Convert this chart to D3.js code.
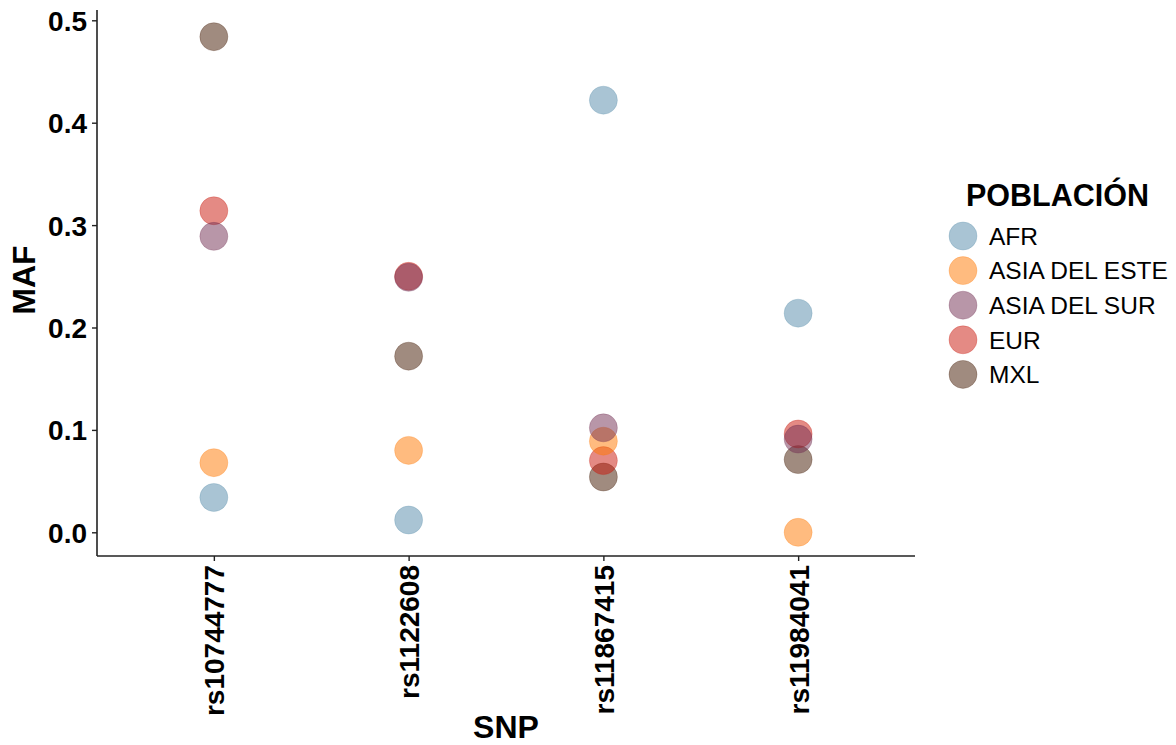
<!DOCTYPE html>
<html><head><meta charset="utf-8">
<script src="https://cdn.jsdelivr.net/npm/d3@7"></script>
<style>body{margin:0;background:#fff;} text{font-family:"Liberation Sans",Arial,sans-serif;}</style>
</head><body><svg id="c" width="1176" height="745"></svg>
<script>
const snps = ["rs10744777","rs1122608","rs11867415","rs11984041"];
const populations = ["AFR","ASIA DEL ESTE","ASIA DEL SUR","EUR","MXL"];
const popColors = ["#538AA9","#FF7700","#712D51","#C91509","#411700"];
const drawOrder = ["AFR","MXL","EUR","ASIA DEL ESTE","ASIA DEL SUR"];
const afr  = [0.034, 0.012, 0.422, 0.214];
const este = [0.068, 0.080, 0.089, 0.000];
const sur  = [0.289, 0.249, 0.102, 0.091];
const eur  = [0.314, 0.250, 0.070, 0.096];
const mxl  = [0.484, 0.172, 0.054, 0.071];
const yTicks = [0, 0.1, 0.2, 0.3, 0.4, 0.5];

(function(){
const seriesVals = {"AFR":afr, "ASIA DEL ESTE":este, "ASIA DEL SUR":sur, "EUR":eur, "MXL":mxl};
const data = [];
drawOrder.forEach(p=>snps.forEach((s,j)=>data.push({pop:p,snp:s,v:seriesVals[p][j]})));

const svg = d3.select("#c");
const pL = 97, pR = 915, pT = 10, pB = 556;
const x = d3.scalePoint().domain(snps).range([pL, pR]).padding(0.6);
const y = d3.scaleLinear().domain([0, 0.5]).range([532.3, 20.3]);
const color = d3.scaleOrdinal().domain(populations).range(popColors);
const alpha = 0.5;

svg.append("g").selectAll("circle").data(data).join("circle")
  .attr("cx", d=>x(d.snp)).attr("cy", d=>y(d.v)).attr("r", 14)
  .attr("fill", d=>color(d.pop)).attr("fill-opacity", alpha)
  .attr("stroke", d=>color(d.pop)).attr("stroke-opacity", 0.25).attr("stroke-width", 1);

const ya = svg.append("g").attr("transform", `translate(${pL},0)`)
  .call(d3.axisLeft(y).tickValues(yTicks).tickFormat(d3.format(".1f")).tickSize(5).tickPadding(5));
ya.select(".domain").attr("d", `M0,${pT}V${pB}`).attr("stroke","#222").attr("stroke-width",1.6);
ya.selectAll(".tick line").attr("stroke","#222").attr("stroke-width",1.4);
ya.selectAll(".tick text").attr("font-size", 28).attr("font-weight","bold").attr("fill","#000")
  .attr("dy","0.36em");

const xa = svg.append("g").attr("transform", `translate(0,${pB})`)
  .call(d3.axisBottom(x).tickSize(5).tickPadding(4));
xa.select(".domain").attr("d", `M${pL},0H${pR}`).attr("stroke","#222").attr("stroke-width",1.6);
xa.selectAll(".tick line").attr("stroke","#222").attr("stroke-width",1.4);
xa.selectAll(".tick text").attr("font-size", 28).attr("font-weight","bold").attr("fill","#000")
  .attr("transform","rotate(-90)").attr("text-anchor","end").attr("dy","0.36em")
  .attr("x", -9).attr("y", 0);

svg.append("text").attr("x", (pL+pR)/2).attr("y", 738).attr("text-anchor","middle")
  .attr("font-size", 32).attr("font-weight","bold").text("SNP");
svg.append("text").attr("transform","translate(35,280) rotate(-90)").attr("text-anchor","middle")
  .attr("font-size", 32).attr("font-weight","bold").text("MAF");

const lg = svg.append("g");
lg.append("text").attr("x", 966).attr("y", 206).attr("font-size", 30.5).attr("font-weight","bold").text("POBLACIÓN");
populations.forEach((p,i)=>{
  const cy = 236 + i*34.6;
  lg.append("circle").attr("cx", 963).attr("cy", cy).attr("r", 14)
    .attr("fill", color(p)).attr("fill-opacity",alpha).attr("stroke", color(p)).attr("stroke-opacity",0.25);
  lg.append("text").attr("x", 989).attr("y", cy).attr("dy","0.36em").attr("font-size", 24.5).text(p);
});
})();
</script></body></html>
